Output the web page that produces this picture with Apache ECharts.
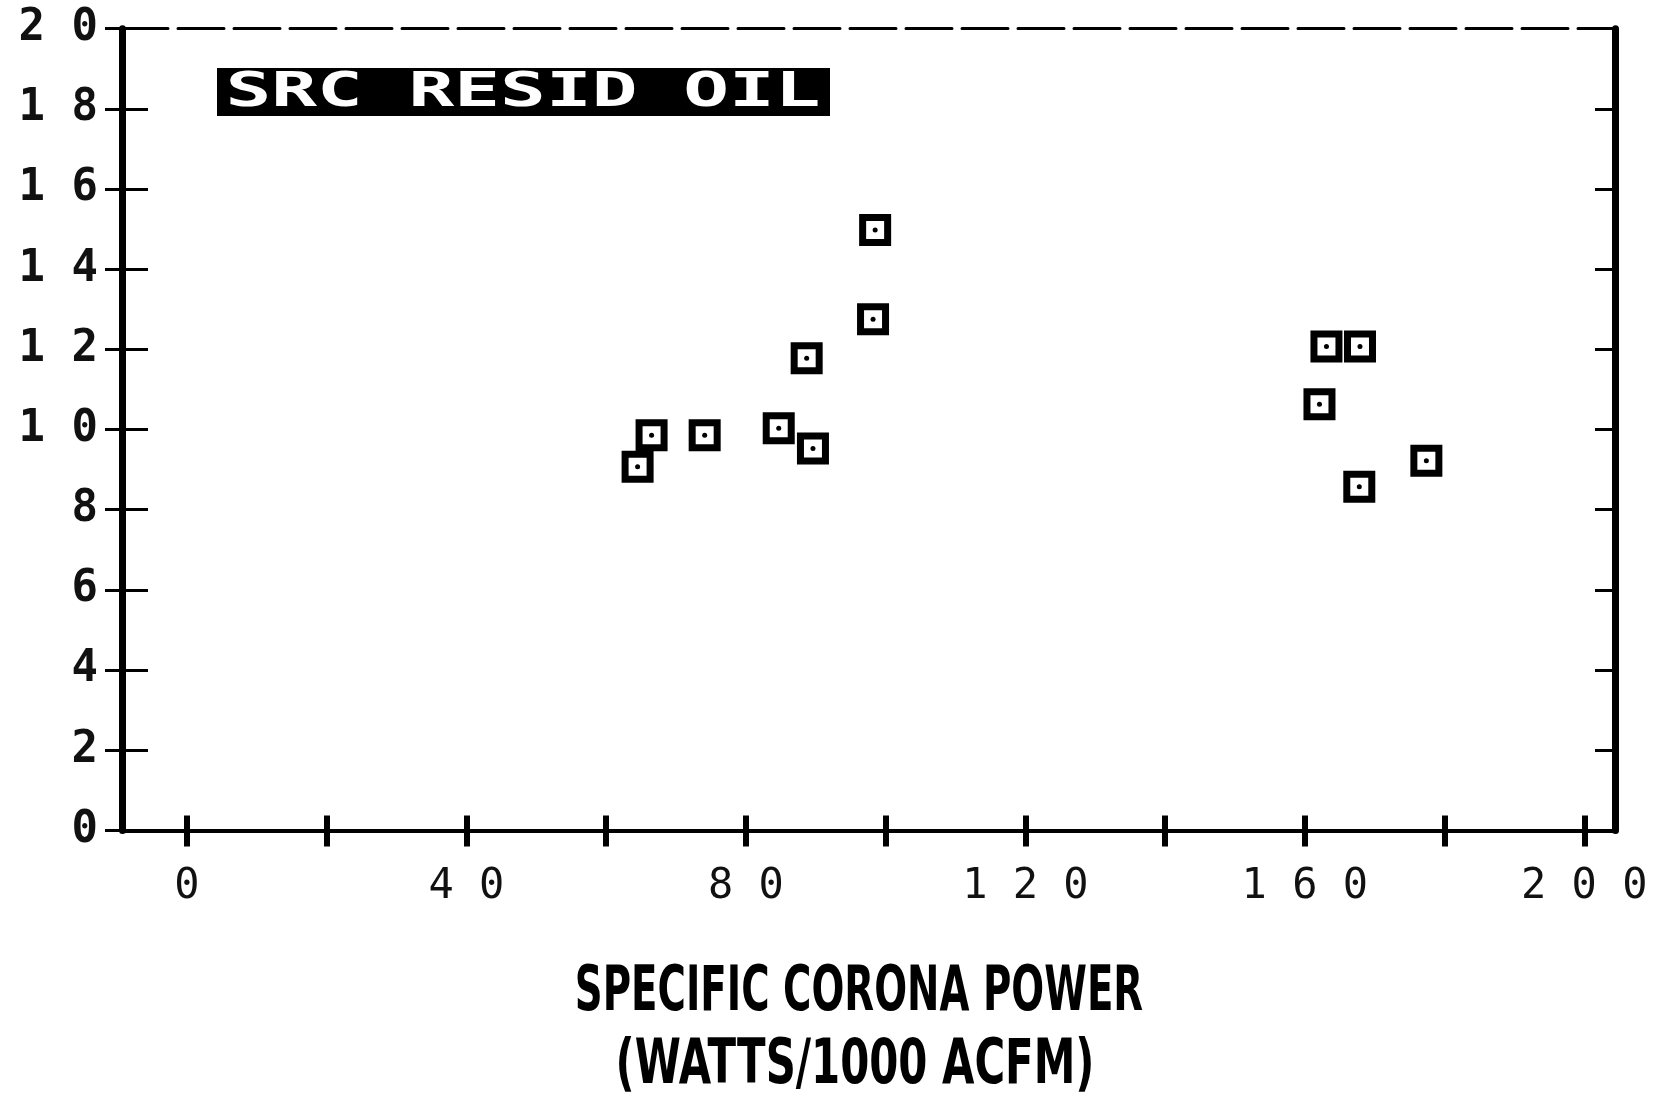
<!DOCTYPE html>
<html>
<head>
<meta charset="utf-8">
<title>SRC RESID OIL – Specific Corona Power</title>
<script src="https://cdn.jsdelivr.net/npm/echarts@6/dist/echarts.min.js"></script>
<style>
  html, body { margin: 0; padding: 0; background: #fff; }
  #chart { width: 1665px; height: 1095px; }
</style>
</head>
<body>
<div id="chart"></div>
<script>
// Specific corona power (watts / 1000 acfm) for each test run
const powerX = [64.5, 66.5, 74.1, 84.7, 89.6, 88.7, 98.2, 98.5, 163.1, 167.9, 162.1, 167.8, 177.4];
// Matching values on the vertical scale
const valueY = [9.07, 9.86, 9.86, 10.03, 9.53, 11.78, 12.75, 14.98, 12.07, 12.07, 10.63, 8.57, 9.22];

// Tick and label positions
const xTicks = [0, 20, 40, 60, 80, 100, 120, 140, 160, 180, 200];
const xLabels = [0, 40, 80, 120, 160, 200];
const yTicks = [0, 2, 4, 6, 8, 10, 12, 14, 16, 18, 20];
const yMin = 0, yMax = 20, yStep = 2;
const xMin = -9.3, xMax = 204.4;

const legendText = 'SRC RESID OIL';
const axisTitle1 = 'SPECIFIC CORONA POWER';
const axisTitle2 = '(WATTS/1000 ACFM)';

const points = powerX.map((x, i) => [x, valueY[i]]);
const spaced = v => String(v).split('').join(' ');
const monoFont = '"DejaVu Sans Mono", "Liberation Mono", monospace';
const titleFont = '"Liberation Sans Narrow", "DejaVu Sans Condensed", sans-serif';

const chart = echarts.init(document.getElementById('chart'), null, { renderer: 'canvas' });

const hidden = { show: false };

chart.setOption({
  backgroundColor: '#ffffff',
  animation: false,
  grid: { left: 122, right: 50, top: 28.7, bottom: 264.6, containLabel: false },
  xAxis: [
    {
      // bottom axis with labels and outward ticks
      type: 'value', position: 'bottom', min: xMin, max: xMax,
      axisLine: { show: true, onZero: false, lineStyle: { color: '#000', width: 4 } },
      axisTick: { show: true, customValues: xTicks, length: 16, inside: false,
                  lineStyle: { color: '#000', width: 6 } },
      axisLabel: { show: true, customValues: xLabels, formatter: spaced, margin: 36,
                   color: '#111', fontFamily: monoFont, fontSize: 42 },
      splitLine: hidden
    },
    {
      // inward half of the crossing ticks
      type: 'value', position: 'bottom', min: xMin, max: xMax,
      axisLine: { show: false, onZero: false },
      axisTick: { show: true, customValues: xTicks, length: 15, inside: true,
                  lineStyle: { color: '#000', width: 6 } },
      axisLabel: hidden, splitLine: hidden
    },
    {
      // dashed top frame
      type: 'value', position: 'top', min: xMin, max: xMax,
      axisLine: { show: true, onZero: false, lineStyle: { color: '#000', width: 3, type: [46, 10] } },
      axisTick: hidden, axisLabel: hidden, splitLine: hidden
    }
  ],
  yAxis: [
    {
      // heavy left axis with labels and outward ticks
      type: 'value', position: 'left', min: yMin, max: yMax, interval: yStep,
      axisLine: { show: true, onZero: false, lineStyle: { color: '#000', width: 7 } },
      axisTick: { show: true, length: 17, inside: false, lineStyle: { color: '#000', width: 3 } },
      axisLabel: { show: true, formatter: spaced, margin: 24, color: '#111',
                   fontFamily: monoFont, fontSize: 44, fontWeight: 'bold' },
      splitLine: hidden
    },
    {
      // inward half of the left ticks
      type: 'value', position: 'left', offset: 0, min: yMin, max: yMax,
      axisLine: { show: false, onZero: false },
      axisTick: { show: true, customValues: yTicks, length: 26, inside: true,
                  lineStyle: { color: '#000', width: 3 } },
      axisLabel: hidden, splitLine: hidden
    },
    {
      // right frame with inward ticks
      type: 'value', position: 'right', min: yMin, max: yMax, interval: yStep,
      axisLine: { show: true, onZero: false, lineStyle: { color: '#000', width: 7 } },
      axisTick: { show: true, length: 20, inside: true, lineStyle: { color: '#000', width: 3 } },
      axisLabel: hidden, splitLine: hidden
    }
  ],
  series: [
    {
      // hollow square markers
      type: 'scatter', xAxisIndex: 0, yAxisIndex: 0, data: points,
      symbol: 'rect', symbolSize: 25,
      itemStyle: { color: '#fff', borderColor: '#000', borderWidth: 7, opacity: 1 },
      emphasis: { disabled: true }, z: 3
    },
    {
      // centre dot of each marker
      type: 'scatter', xAxisIndex: 0, yAxisIndex: 0, data: points,
      symbol: 'circle', symbolSize: 5,
      itemStyle: { color: '#000', opacity: 1 },
      emphasis: { disabled: true }, z: 4
    }
  ],
  graphic: [
    {
      type: 'group', left: 217, top: 68,
      children: [
        { type: 'rect', shape: { x: 0, y: 0, width: 613, height: 48 }, style: { fill: '#000' } },
        {
          type: 'text', x: 306, y: 25, scaleX: 1.95, scaleY: 1.25,
          style: {
            text: legendText,
            fill: '#fff', font: 'bold 39px ' + monoFont,
            textAlign: 'center', textVerticalAlign: 'middle'
          }
        }
      ]
    },
    {
      type: 'text', x: 859, y: 994, scaleX: 0.683,
      style: { text: axisTitle1, fill: '#000', font: 'bold 63px ' + titleFont,
               textAlign: 'center', textVerticalAlign: 'middle' }
    },
    {
      type: 'text', x: 855, y: 1067, scaleX: 0.738,
      style: { text: axisTitle2, fill: '#000', font: 'bold 63px ' + titleFont,
               textAlign: 'center', textVerticalAlign: 'middle' }
    }
  ]
});
</script>
</body>
</html>
